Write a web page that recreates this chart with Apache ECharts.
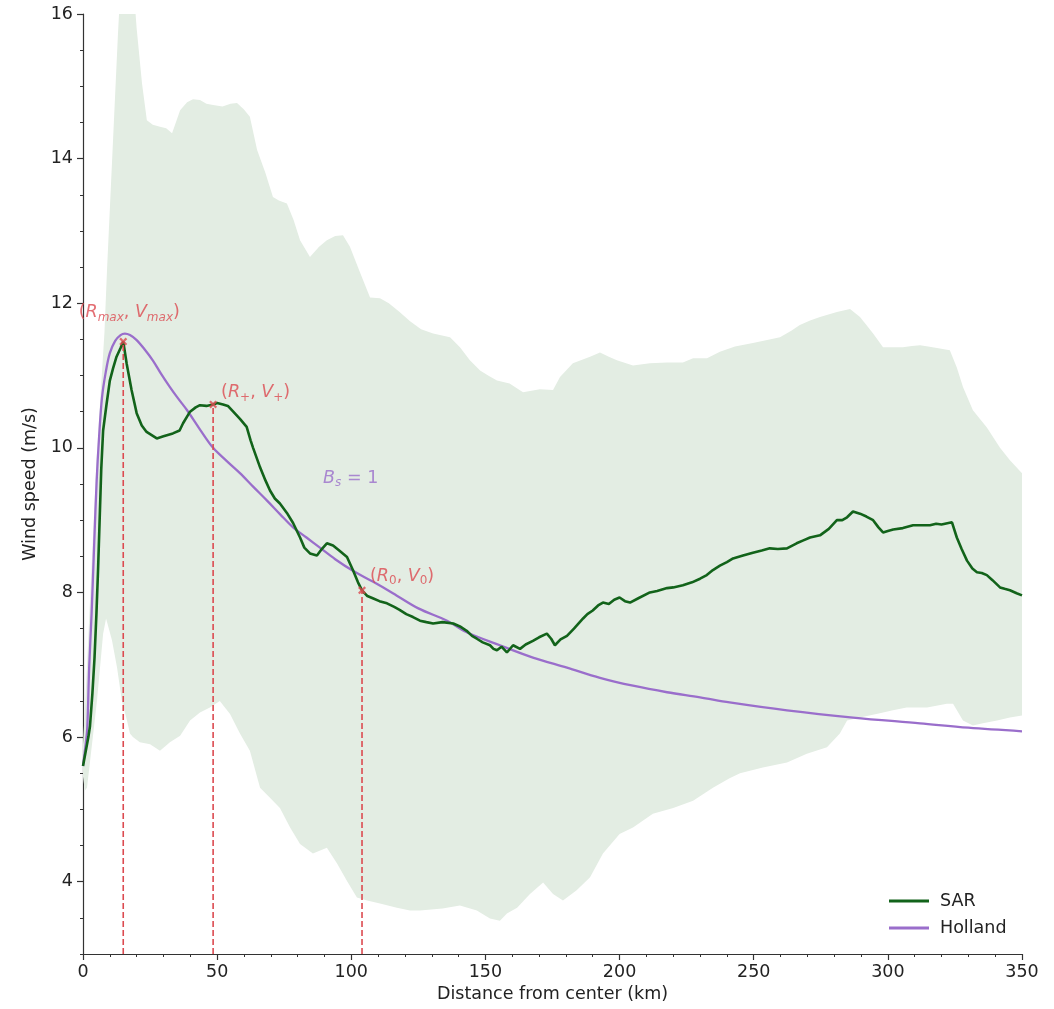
<!DOCTYPE html>
<html>
<head>
<meta charset="utf-8">
<script src="https://cdn.jsdelivr.net/npm/echarts@6/dist/echarts.min.js"></script>
<style>
  html, body { margin: 0; padding: 0; background: #fff; }
  #chart { width: 1054px; height: 1009px; }
</style>
</head>
<body>
<div id="chart"></div>
<script>
// Radial wind-speed profile: SAR mean with spread band, and the Holland fit.

const xTickValues = [0, 50, 100, 150, 200, 250, 300, 350];
const yTickValues = [4, 6, 8, 10, 12, 14, 16];

// SAR azimuthal mean profile
const sarKm = [0, 1, 2, 2.6, 3.5, 4.3, 5, 5.6, 6.2, 6.8, 7.5, 8.8, 10, 11.2, 12.5, 14, 15, 16.3, 18.1, 20,
  21.9, 23.7, 27.5, 30, 33.5, 36, 37.3, 39.9, 42, 43.6, 46, 48.5, 50, 52.2, 54, 56, 58.5, 61, 62.5, 63.4,
  66, 68, 69.7, 71.5, 73.4, 76, 78.3, 80.9, 82.5, 84.6, 87.2, 89, 90.9, 93.2, 95.5, 98.4, 100.6, 102.5, 104, 106,
  108, 110.5, 113.3, 116, 118, 120.5, 123, 125.6, 128, 130.5, 134, 138, 140.5, 143, 145, 146.8, 149, 151.7, 153, 154.3,
  156, 158, 160.3, 162.9, 165, 167.7, 170, 172.9, 174.5, 175.9, 178, 180.4, 183, 186.4, 188, 190, 192, 193.8, 196, 198,
  200, 202, 203.9, 207, 211.3, 214, 217.7, 220, 223.6, 227, 230, 232.5, 234.8, 237.4, 240, 242.3, 246, 249.7, 253, 256,
  259, 262.4, 266, 268.5, 271, 274.7, 278, 281, 283, 284.8, 287, 289.6, 292, 294.5, 296.5, 298.2, 300, 302, 305.6, 309.4,
  312.5, 315.7, 318, 320, 323.9, 325.7, 327.5, 329.5, 331.5, 333.2, 335, 336.9, 339, 341.8, 343.5, 345.5, 348, 350];
const sarSpeed = [5.6, 5.8, 6.0, 6.15, 6.6, 7.1, 7.7, 8.3, 9.0, 9.7, 10.24, 10.61, 10.93, 11.1, 11.26, 11.38, 11.47, 11.16, 10.8, 10.48,
  10.31, 10.22, 10.13, 10.16, 10.2, 10.24, 10.34, 10.5, 10.56, 10.59, 10.58, 10.6, 10.62, 10.6, 10.58, 10.5, 10.4, 10.29, 10.1, 10.0,
  9.73, 9.55, 9.41, 9.3, 9.23, 9.1, 8.96, 8.76, 8.62, 8.54, 8.51, 8.6, 8.68, 8.65, 8.58, 8.49, 8.31, 8.14, 8.03, 7.95,
  7.92, 7.88, 7.85, 7.8, 7.76, 7.7, 7.66, 7.61, 7.59, 7.57, 7.59, 7.57, 7.53, 7.47, 7.4, 7.36, 7.31, 7.27, 7.22, 7.2,
  7.25, 7.17, 7.27, 7.22, 7.28, 7.33, 7.38, 7.43, 7.36, 7.27, 7.35, 7.4, 7.5, 7.64, 7.7, 7.75, 7.82, 7.86, 7.84, 7.9,
  7.93, 7.88, 7.86, 7.92, 8.0, 8.02, 8.06, 8.07, 8.1, 8.14, 8.19, 8.24, 8.31, 8.37, 8.42, 8.47, 8.51, 8.55, 8.58, 8.61,
  8.6, 8.61, 8.68, 8.72, 8.76, 8.79, 8.88, 9.0, 9.0, 9.04, 9.12, 9.09, 9.05, 9.0, 8.9, 8.83, 8.85, 8.87, 8.89, 8.93,
  8.93, 8.93, 8.95, 8.94, 8.97, 8.76, 8.6, 8.44, 8.33, 8.28, 8.27, 8.24, 8.17, 8.07, 8.05, 8.03, 7.99, 7.96];

// Holland parametric profile (B_s = 1)
const hollandKm = [0, 0.5, 1, 1.6, 2.3, 3.2, 4.2, 5.1, 6, 7.1, 8.5, 10, 12, 14, 15.6, 17.5, 20, 23, 26, 29, 32.4,
  35.5, 38.8, 43.5, 48.5, 53.5, 58.5, 63.5, 68.6, 73.5, 78.3, 83.3, 88.3, 94, 100.6, 108, 115.5, 125, 135.7, 143, 155.4,
  167.7, 180.4, 192.7, 205, 217.7, 230, 241, 262.4, 287, 312, 330, 350];
const hollandSpeed = [5.6, 5.75, 5.9, 6.13, 6.96, 7.7, 8.7, 9.55, 10.15, 10.7, 11.05, 11.31, 11.48, 11.56, 11.58, 11.56, 11.49, 11.36, 11.21, 11.03, 10.84,
  10.68, 10.52, 10.26, 10.0, 9.82, 9.65, 9.46, 9.27, 9.08, 8.9, 8.76, 8.62, 8.46, 8.3, 8.15, 7.99, 7.78, 7.61, 7.45, 7.27,
  7.1, 6.96, 6.82, 6.71, 6.62, 6.55, 6.48, 6.37, 6.27, 6.19, 6.13, 6.08];

// Upper edge of the SAR spread band
const bandHighKm = [0, 1, 2, 3, 4, 5, 6, 7, 8, 9, 10, 11, 12, 13, 14, 18.8, 20, 22, 23.8, 26,
  28.7, 31, 33.2, 36.2, 38.8, 41, 43.6, 46, 48.5, 52, 55, 57.4, 60, 62.2, 64.9, 68, 70.8, 73, 76, 78.5,
  80.9, 84.6, 88, 90.9, 94, 96.9, 99.5, 103, 107, 110.7, 114, 118, 121.9, 126, 130.5, 136.8, 140.5, 144.2, 148, 151,
  154.3, 159, 164, 170.3, 175.2, 177.8, 182.6, 189, 192.7, 196, 199, 205, 211.3, 217.7, 223.6, 227.4, 232.6, 237.4, 243, 249.7,
  255, 259.8, 264, 267.2, 271, 274.7, 281, 285.9, 289.6, 292, 294.5, 298.2, 302, 305.6, 309, 312, 315, 318.3, 323.1, 325.7,
  328, 331.7, 336.9, 341.8, 345.5, 350];
const bandHigh = [5.9, 6.6, 7.4, 8.2, 9.0, 9.8, 10.4, 11.0, 11.6, 12.5, 13.3, 14.1, 14.9, 15.7, 16.4, 16.4, 15.8, 15.04, 14.53, 14.47,
  14.44, 14.42, 14.35, 14.67, 14.78, 14.82, 14.81, 14.76, 14.74, 14.72, 14.76, 14.77, 14.68, 14.58, 14.12, 13.8, 13.47, 13.42, 13.38, 13.15,
  12.87, 12.64, 12.78, 12.87, 12.93, 12.94, 12.78, 12.45, 12.08, 12.07, 12.0, 11.88, 11.75, 11.64, 11.58, 11.53, 11.39, 11.21, 11.07, 11.0,
  10.93, 10.89, 10.77, 10.81, 10.8, 10.98, 11.17, 11.26, 11.32, 11.26, 11.21, 11.14, 11.17, 11.18, 11.18, 11.24, 11.24, 11.33, 11.4, 11.45,
  11.49, 11.53, 11.62, 11.7, 11.76, 11.81, 11.88, 11.92, 11.81, 11.7, 11.58, 11.39, 11.39, 11.39, 11.41, 11.42, 11.4, 11.38, 11.35, 11.11,
  10.84, 10.52, 10.28, 10.0, 9.83, 9.65];

// Lower edge of the SAR spread band
const bandLowKm = [0, 0.7, 1.5, 5.2, 7.5, 8.6, 10.8, 12.7, 14.5, 16.4, 17.5, 18.6, 21.2, 25, 28.7, 32.4, 36.2, 39.9, 43.6, 47.3,
  51, 54.8, 58.5, 62.2, 66, 69.7, 73.4, 77.2, 80.9, 85.7, 90.9, 94.7, 98.4, 102.1, 105.9, 110.7, 117, 121.9, 125.6, 134,
  140.5, 146.8, 151.7, 155.4, 158, 161.8, 166.6, 171.5, 175.2, 178.9, 184, 189, 193.8, 200, 205, 212.4, 220, 227.4, 234.8, 241,
  244.9, 253.4, 262.4, 269.8, 277.3, 282.1, 284.8, 289.6, 297, 301.9, 307, 314.6, 322, 324.3, 328, 331.7, 335.4, 340.7, 345.5, 350];
const bandLow = [5.45, 5.26, 5.3, 6.5, 7.43, 7.64, 7.34, 6.96, 6.5, 6.23, 6.05, 6.0, 5.93, 5.9, 5.81, 5.93, 6.02, 6.23, 6.34, 6.41,
  6.5, 6.32, 6.05, 5.81, 5.3, 5.16, 5.02, 4.75, 4.52, 4.39, 4.47, 4.25, 4.01, 3.78, 3.74, 3.7, 3.64, 3.6, 3.6, 3.63,
  3.67, 3.6, 3.49, 3.46, 3.56, 3.64, 3.83, 3.99, 3.83, 3.74, 3.88, 4.06, 4.39, 4.66, 4.75, 4.94, 5.02, 5.12, 5.3, 5.43,
  5.5, 5.58, 5.65, 5.77, 5.86, 6.05, 6.23, 6.27, 6.33, 6.37, 6.41, 6.41, 6.46, 6.46, 6.23, 6.16, 6.19, 6.23, 6.27, 6.3];

// Characteristic points: (R_max, V_max), (R_+, V_+), (R_0, V_0)
const keyKm = [15, 48.5, 104];
const keySpeed = [11.47, 10.6, 8.03];
const keySymbol = [['R', 'max', 'V', 'max'], ['R', '+', 'V', '+'], ['R', '0', 'V', '0']];

// Shape-parameter annotation
const paramKm = 89.5;
const paramSpeed = 9.58;

const FONT = 'DejaVu Sans';
const FS = 17.5;
const SUB = 12;
const RED = '#dc4a50';
const PURPLE = '#9a6ecb';
const GREEN = '#12631a';
const BAND = '#e3ede3';
const AXIS = '#333';
const TEXT = '#222';
const Y_MIN = 3, Y_MAX = 16;

const zip = (a, b) => a.map((v, i) => [v, b[i]]);

const chart = echarts.init(document.getElementById('chart'), null, { renderer: 'canvas' });

const mathRich = (color) => ({
  p: { fontFamily: FONT, fontSize: FS, color: color, lineHeight: 22 },
  i: { fontFamily: FONT, fontSize: FS, fontStyle: 'italic', color: color, lineHeight: 22 },
  s: { fontFamily: FONT, fontSize: SUB, fontStyle: 'italic', color: color, lineHeight: 12, verticalAlign: 'bottom' },
  u: { fontFamily: FONT, fontSize: SUB, color: color, lineHeight: 12, verticalAlign: 'bottom' }
});
const subTag = (t) => (/^[a-z]+$/.test(t) ? 's' : 'u');
const keyText = keySymbol.map(([a, as, b, bs]) =>
  `{p|(}{i|${a}}{${subTag(as)}|${as}}{p|, }{i|${b}}{${subTag(bs)}|${bs}}{p|)}`);
const keyLabelPos = [
  { position: 'top', offset: [6, -10] },
  { position: 'right', offset: [0, -12] },
  { position: 'right', offset: [0, -14] }
];

const dashedSeries = keyKm.map((km, i) => ({
  type: 'line',
  data: [[km, Y_MIN], [km, keySpeed[i]]],
  symbol: 'none',
  silent: true,
  z: 5,
  lineStyle: { color: RED, width: 1.6, type: [6, 3] }
}));

const option = {
  backgroundColor: '#fff',
  animation: false,
  textStyle: { fontFamily: FONT },
  grid: { left: 83, right: 32, top: 14, bottom: 55, containLabel: false, outerBoundsMode: 'none' },
  legend: {
    data: ['SAR', 'Holland'],
    orient: 'vertical',
    left: 884,
    top: 886,
    icon: 'rect',
    itemWidth: 40,
    itemHeight: 3,
    itemGap: 7,
    textStyle: { fontFamily: FONT, fontSize: FS, color: TEXT, lineHeight: 20, padding: [0, 0, 0, 6] }
  },
  xAxis: {
    type: 'value',
    min: 0, max: 350, interval: 50,
    name: 'Distance from center (km)',
    nameLocation: 'middle',
    nameGap: 31,
    nameTextStyle: { fontFamily: FONT, fontSize: FS, color: TEXT },
    axisLine: { lineStyle: { color: AXIS, width: 1.2 } },
    axisTick: { length: 6, lineStyle: { color: AXIS, width: 1.2 } },
    minorTick: { show: true, splitNumber: 5, length: 3, lineStyle: { color: AXIS, width: 1 } },
    axisLabel: { margin: 9, fontFamily: FONT, fontSize: FS, color: TEXT, customValues: xTickValues },
    splitLine: { show: false }
  },
  yAxis: [
    {
      type: 'value',
      min: Y_MIN, max: Y_MAX,
      name: 'Wind speed (m/s)',
      nameLocation: 'middle',
      nameGap: 40,
      nameRotate: 90,
      nameTextStyle: { fontFamily: FONT, fontSize: FS, color: TEXT },
      axisLine: { show: true, lineStyle: { color: AXIS, width: 1.2 } },
      axisTick: { show: true, length: 6, lineStyle: { color: AXIS, width: 1.2 }, customValues: yTickValues },
      axisLabel: { margin: 10, fontFamily: FONT, fontSize: FS, color: TEXT, customValues: yTickValues },
      splitLine: { show: false }
    },
    {
      type: 'value',
      min: Y_MIN, max: Y_MAX, interval: 0.5,
      position: 'left',
      axisLine: { show: false },
      axisTick: { show: true, length: 3, lineStyle: { color: AXIS, width: 1 } },
      axisLabel: { show: false },
      splitLine: { show: false }
    }
  ],
  series: [
    {
      name: 'spread',
      type: 'custom',
      coordinateSystem: 'cartesian2d',
      silent: true,
      z: 1,
      data: [[0, Y_MIN]],
      renderItem: function (params, api) {
        const upper = bandHighKm.map((km, i) => api.coord([km, bandHigh[i]]));
        const lower = bandLowKm.map((km, i) => api.coord([km, bandLow[i]])).reverse();
        const cs = params.coordSys;
        return {
          type: 'polygon',
          shape: { points: upper.concat(lower) },
          style: { fill: BAND, stroke: null },
          clipPath: { type: 'rect', shape: { x: cs.x, y: cs.y, width: cs.width, height: cs.height } }
        };
      }
    },
    {
      name: 'Holland',
      type: 'line',
      data: zip(hollandKm, hollandSpeed),
      smooth: 0.35,
      symbol: 'none',
      z: 3,
      color: PURPLE,
      itemStyle: { color: PURPLE },
      lineStyle: { color: PURPLE, width: 2.3 }
    },
    {
      name: 'SAR',
      type: 'line',
      data: zip(sarKm, sarSpeed),
      symbol: 'none',
      z: 4,
      color: GREEN,
      itemStyle: { color: GREEN },
      lineStyle: { color: GREEN, width: 2.6 }
    },
    ...dashedSeries,
    {
      name: 'key points',
      type: 'scatter',
      z: 6,
      symbol: 'path://M0,2 L2,0 L5,3 L8,0 L10,2 L7,5 L10,8 L8,10 L5,7 L2,10 L0,8 L3,5 Z',
      symbolSize: 8,
      itemStyle: { color: RED },
      data: keyKm.map((km, i) => ({
        value: [km, keySpeed[i]],
        label: {
          show: true,
          formatter: keyText[i],
          rich: mathRich(RED),
          distance: 4,
          position: keyLabelPos[i].position,
          offset: keyLabelPos[i].offset
        }
      }))
    },
    {
      name: 'shape parameter',
      type: 'scatter',
      z: 6,
      symbolSize: 0,
      silent: true,
      data: [[paramKm, paramSpeed]],
      label: {
        show: true,
        position: 'right',
        distance: 0,
        formatter: '{i|B}{s|s}{p| = 1}',
        rich: mathRich(PURPLE)
      }
    }
  ]
};

chart.setOption(option);
</script>
</body>
</html>
